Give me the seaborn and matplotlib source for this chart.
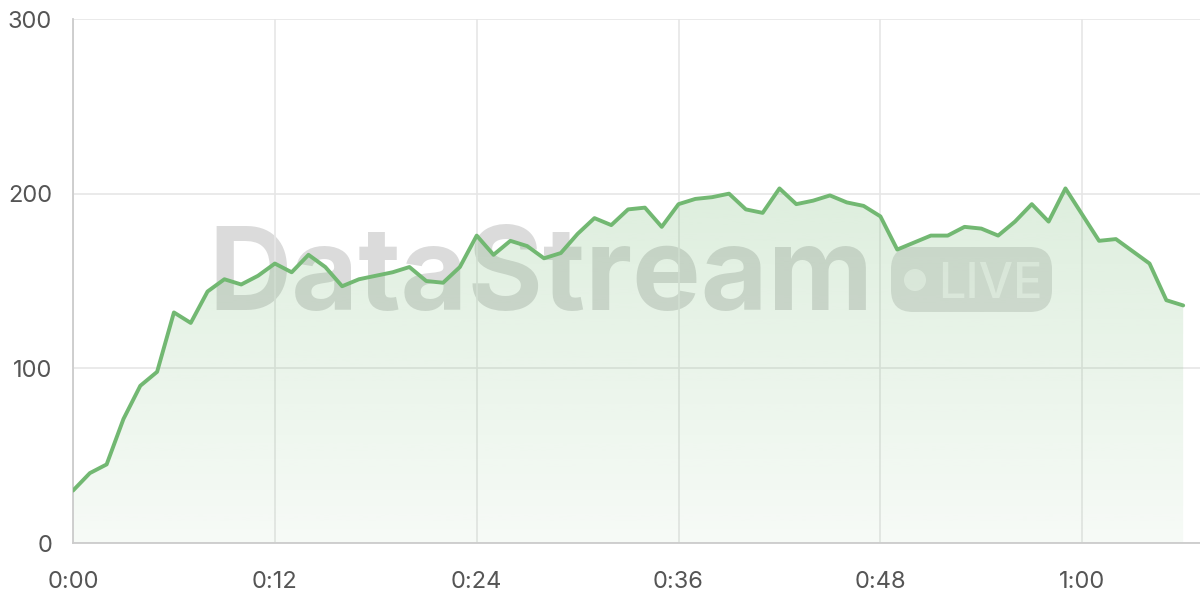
import numpy as np
import pandas as pd
import matplotlib
matplotlib.use("Agg")
import matplotlib.pyplot as plt
import seaborn as sns
from matplotlib.patches import FancyBboxPatch, Circle

# Data: one reading per minute
minutes = list(range(67))
viewers = [30, 40, 45, 71, 90, 98, 132, 126, 144, 151,
           148, 153, 160, 155, 165, 158, 147, 151, 153, 155,
           158, 150, 149, 158, 176, 165, 173, 170, 163, 166,
           177, 186, 182, 191, 192, 181, 194, 197, 198, 200,
           191, 189, 203, 194, 196, 199, 195, 193, 187, 168,
           172, 176, 176, 181, 180, 176, 184, 194, 184, 203,
           188, 173, 174, 167, 160, 139, 136]
x_ticks = [0, 12, 24, 36, 48, 60]
x_tick_labels = ["0:00", "0:12", "0:24", "0:36", "0:48", "1:00"]
y_ticks = [0, 100, 200, 300]

df = pd.DataFrame({"minute": minutes, "viewers": viewers})

line_color = "#72b872"
grid_color = "#e6e6e6"

sns.set_theme(style="white")
plt.rcParams["font.family"] = ["Inter", "DejaVu Sans"]

fig = plt.figure(figsize=(12, 6), dpi=100)

# watermark layer in pixel coordinates, sits under the chart
wm = fig.add_axes([0, 0, 1, 1], zorder=0)
wm.set_xlim(0, 1200)
wm.set_ylim(600, 0)
wm.axis("off")

ax = fig.add_axes([73 / 1200, 1 - 543 / 600, 1 - 73 / 1200, (543 - 19) / 600], zorder=1)
ax.patch.set_alpha(0)

wm.text(208, 310, "DataStream", fontsize=83, fontweight="bold",
        color="black", alpha=0.14, va="baseline", ha="left")
badge = FancyBboxPatch((891, 247), 161, 65, boxstyle="round,pad=0,rounding_size=22",
                       facecolor="black", alpha=0.12, edgecolor="none")
wm.add_patch(badge)
wm.add_patch(Circle((915, 280), 11, facecolor="white", alpha=0.6, edgecolor="none"))
wm.text(938, 298, "LIVE", fontsize=35, fontweight="medium", color="white", alpha=0.6,
        va="baseline", ha="left")

# gradient fill under the line
poly = ax.fill_between(df["minute"], df["viewers"], 0, color="none", zorder=1)
rgb = matplotlib.colors.to_rgb(line_color)
grad = np.zeros((256, 1, 4))
grad[:, 0, :3] = rgb
grad[:, 0, 3] = np.linspace(0.06, 0.24, 256)
img = ax.imshow(grad, aspect="auto", extent=[0, 66, 0, 205], origin="lower", zorder=1)
img.set_clip_path(poly.get_paths()[0], transform=ax.transData)

sns.lineplot(data=df, x="minute", y="viewers", ax=ax, color=line_color,
             linewidth=2.8, zorder=5)

ax.set_xlim(0, 67)
ax.set_ylim(0, 300)
ax.set_xticks(x_ticks)
ax.set_xticklabels(x_tick_labels)
ax.set_yticks(y_ticks)
ax.set_xlabel("")
ax.set_ylabel("")
ax.grid(True, color=grid_color, linewidth=1.2, zorder=0)
ax.set_axisbelow(True)
for side in ["top", "right"]:
    ax.spines[side].set_visible(False)
for side in ["left", "bottom"]:
    ax.spines[side].set_color("#cccccc")
    ax.spines[side].set_linewidth(1.3)
ax.tick_params(axis="both", colors=grid_color, length=8, width=1.2,
               labelcolor="#555555", labelsize=17)
ax.tick_params(axis="x", pad=12)
ax.tick_params(axis="y", pad=7)

fig.savefig("out.png", dpi=100)
